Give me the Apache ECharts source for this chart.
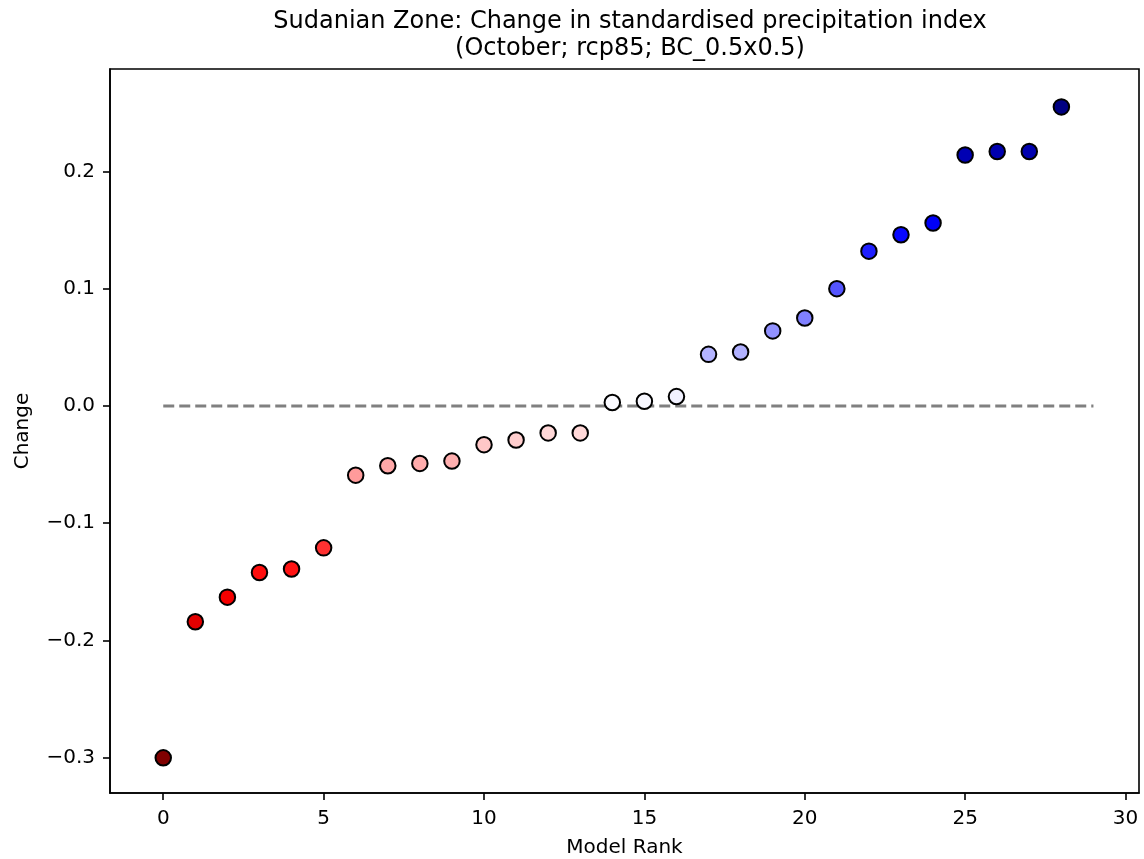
<!DOCTYPE html>
<html>
<head>
<meta charset="utf-8">
<script src="https://cdn.jsdelivr.net/npm/echarts@6/dist/echarts.min.js"></script>
<style>
html,body{margin:0;padding:0;background:#fff;}
#chart{width:1144px;height:859px;}
</style>
</head>
<body>
<div id="chart"></div>
<script>
const titleLines = ['Sudanian Zone: Change in standardised precipitation index', '(October; rcp85; BC_0.5x0.5)'];
const xName = 'Model Rank';
const yName = 'Change';
const ranks = [0,1,2,3,4,5,6,7,8,9,10,11,12,13,14,15,16,17,18,19,20,21,22,23,24,25,26,27,28];
const changes = [-0.300,-0.184,-0.163,-0.142,-0.139,-0.121,-0.059,-0.051,-0.049,-0.047,-0.033,-0.029,-0.023,-0.023,0.003,0.004,0.008,0.044,0.046,0.064,0.075,0.100,0.132,0.146,0.156,0.214,0.217,0.217,0.255];
const xTicks = [0,5,10,15,20,25,30];
const yTicks = [-0.3,-0.2,-0.1,0.0,0.1,0.2];
const zeroLineX = [0, 29];
const zeroLineY = [0, 0];
const seismicR = ['#800000','#ff0000','#ffffff','#0000ff','#00004d'];

const maxAbs = Math.max(...changes.map(Math.abs));
const font = 'DejaVu Sans';

const chart = echarts.init(document.getElementById('chart'), null, {renderer:'canvas'});
chart.setOption({
  animation: false,
  backgroundColor: '#fff',
  title: {
    text: titleLines.join('\n'),
    left: 625, top: 3, textAlign: 'center',
    textStyle: {fontFamily: font, fontSize: 24, fontWeight: 'normal', color: '#000', lineHeight: 27}
  },
  grid: {left: 110, right: 5, top: 69, bottom: 66, show: true, borderColor: '#000', borderWidth: 1.6,
    containLabel: false, outerBoundsMode: 'none'},
  xAxis: {
    type: 'value', min: -1.66, max: 30.42,
    name: xName, nameLocation: 'middle', nameGap: 45,
    nameTextStyle: {fontFamily: font, fontSize: 20, color: '#000'},
    splitLine: {show: false},
    axisLine: {show: true, onZero: false, lineStyle: {color: '#000', width: 1.6}},
    axisTick: {show: true, length: 7, lineStyle: {color: '#000', width: 1.6}, customValues: xTicks},
    axisLabel: {fontFamily: font, fontSize: 20, color: '#000', margin: 16, customValues: xTicks, formatter: v => String(v)}
  },
  yAxis: {
    type: 'value', min: -0.33, max: 0.2873,
    name: yName, nameLocation: 'middle', nameGap: 77, nameRotate: 90,
    nameTextStyle: {fontFamily: font, fontSize: 20, color: '#000'},
    splitLine: {show: false},
    axisLine: {show: true, onZero: false, lineStyle: {color: '#000', width: 1.6}},
    axisTick: {show: true, length: 7, lineStyle: {color: '#000', width: 1.6}, customValues: yTicks},
    axisLabel: {fontFamily: font, fontSize: 20, color: '#000', margin: 15, customValues: yTicks,
      formatter: v => (v < -1e-9 ? '\u2212' : '') + Math.abs(v).toFixed(1)}
  },
  visualMap: {
    show: false, type: 'continuous', seriesIndex: 0, dimension: 1,
    min: -maxAbs, max: maxAbs, inRange: {color: seismicR}
  },
  series: [
    {
      type: 'scatter', z: 5,
      data: ranks.map((r, i) => [r, changes[i]]),
      symbol: 'circle', symbolSize: 15.5,
      itemStyle: {borderColor: '#000', borderWidth: 2, opacity: 1}
    },
    {
      type: 'line', z: 2, symbol: 'none', silent: true,
      data: zeroLineX.map((x, i) => [x, zeroLineY[i]]),
      lineStyle: {color: '#808080', width: 3, type: [11, 5]}
    }
  ]
});
</script>
</body>
</html>
